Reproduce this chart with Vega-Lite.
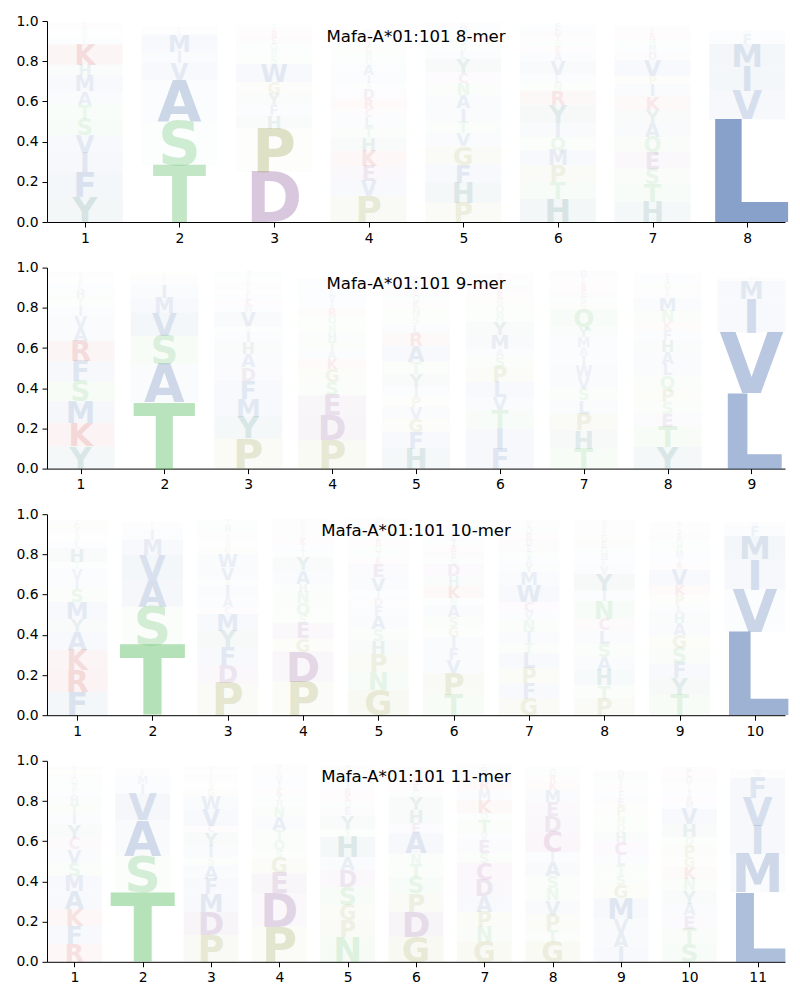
{
"$schema": "https://vega.github.io/schema/vega-lite/v6.json",
"padding": {"left": 15, "top": 14, "right": 10, "bottom": 5},
"bounds": "flush",
"spacing": 45.6,
"config": {
  "font": "DejaVu Sans",
  "view": {"stroke": null},
  "scale": {"continuousPadding": 0},
  "axis": {"grid": false, "domainColor": "black", "domainWidth": 1, "tickColor": "black", "tickWidth": 1, "tickSize": 5, "labelColor": "black", "labelFontSize": 13.9, "labelPadding": 4, "labelFont": "DejaVu Sans", "title": null},
  "title": {"fontSize": 16.6, "fontWeight": "normal", "font": "DejaVu Sans", "color": "black", "anchor": "middle", "baseline": "alphabetic", "offset": -32},
  "text": {"baseline": "alphabetic", "align": "center", "font": "DejaVu Sans", "fontWeight": "bold"}
},
"datasets": {
"m8": [
{"pos":1,"aa":"Y","p":0.124},{"pos":1,"aa":"F","p":0.124},{"pos":1,"aa":"I","p":0.095},{"pos":1,"aa":"V","p":0.088},{"pos":1,"aa":"S","p":0.083},{"pos":1,"aa":"T","p":0.07},{"pos":1,"aa":"A","p":0.066},{"pos":1,"aa":"M","p":0.075},{"pos":1,"aa":"H","p":0.058},{"pos":1,"aa":"K","p":0.1},{"pos":1,"aa":"L","p":0.03},{"pos":1,"aa":"N","p":0.02},{"pos":1,"aa":"Q","p":0.02},{"pos":1,"aa":"W","p":0.02},{"pos":1,"aa":"R","p":0.02},
{"pos":2,"aa":"T","p":0.284},{"pos":2,"aa":"S","p":0.216},{"pos":2,"aa":"A","p":0.207},{"pos":2,"aa":"V","p":0.083},{"pos":2,"aa":"I","p":0.058},{"pos":2,"aa":"M","p":0.083},{"pos":2,"aa":"L","p":0.02},{"pos":2,"aa":"F","p":0.02},
{"pos":3,"aa":"D","p":0.249},{"pos":3,"aa":"P","p":0.216},{"pos":3,"aa":"H","p":0.066},{"pos":3,"aa":"F","p":0.05},{"pos":3,"aa":"Y","p":0.058},{"pos":3,"aa":"G","p":0.058},{"pos":3,"aa":"W","p":0.09},{"pos":3,"aa":"S","p":0.04},{"pos":3,"aa":"N","p":0.03},{"pos":3,"aa":"Q","p":0.03},{"pos":3,"aa":"E","p":0.03},{"pos":3,"aa":"R","p":0.03},{"pos":3,"aa":"K","p":0.02},{"pos":3,"aa":"T","p":0.02},
{"pos":4,"aa":"P","p":0.13},{"pos":4,"aa":"V","p":0.075},{"pos":4,"aa":"E","p":0.075},{"pos":4,"aa":"K","p":0.075},{"pos":4,"aa":"H","p":0.066},{"pos":4,"aa":"T","p":0.05},{"pos":4,"aa":"L","p":0.05},{"pos":4,"aa":"C","p":0.04},{"pos":4,"aa":"R","p":0.05},{"pos":4,"aa":"D","p":0.05},{"pos":4,"aa":"S","p":0.03},{"pos":4,"aa":"I","p":0.04},{"pos":4,"aa":"A","p":0.05},{"pos":4,"aa":"Q","p":0.03},{"pos":4,"aa":"N","p":0.03},{"pos":4,"aa":"G","p":0.03},{"pos":4,"aa":"Y","p":0.03},{"pos":4,"aa":"F","p":0.02},{"pos":4,"aa":"M","p":0.02},{"pos":4,"aa":"W","p":0.02},
{"pos":5,"aa":"P","p":0.096},{"pos":5,"aa":"H","p":0.1},{"pos":5,"aa":"F","p":0.09},{"pos":5,"aa":"G","p":0.09},{"pos":5,"aa":"V","p":0.066},{"pos":5,"aa":"T","p":0.058},{"pos":5,"aa":"I","p":0.066},{"pos":5,"aa":"A","p":0.066},{"pos":5,"aa":"N","p":0.06},{"pos":5,"aa":"C","p":0.05},{"pos":5,"aa":"Y","p":0.07},{"pos":5,"aa":"L","p":0.04},{"pos":5,"aa":"Q","p":0.03},{"pos":5,"aa":"S","p":0.03},{"pos":5,"aa":"K","p":0.03},{"pos":5,"aa":"M","p":0.03},{"pos":5,"aa":"D","p":0.02},
{"pos":6,"aa":"H","p":0.116},{"pos":6,"aa":"T","p":0.083},{"pos":6,"aa":"P","p":0.083},{"pos":6,"aa":"M","p":0.075},{"pos":6,"aa":"Q","p":0.066},{"pos":6,"aa":"I","p":0.07},{"pos":6,"aa":"Y","p":0.09},{"pos":6,"aa":"R","p":0.07},{"pos":6,"aa":"N","p":0.04},{"pos":6,"aa":"L","p":0.04},{"pos":6,"aa":"V","p":0.07},{"pos":6,"aa":"A","p":0.04},{"pos":6,"aa":"K","p":0.03},{"pos":6,"aa":"S","p":0.03},{"pos":6,"aa":"E","p":0.02},{"pos":6,"aa":"D","p":0.03},{"pos":6,"aa":"F","p":0.03},
{"pos":7,"aa":"H","p":0.1},{"pos":7,"aa":"T","p":0.09},{"pos":7,"aa":"S","p":0.075},{"pos":7,"aa":"E","p":0.083},{"pos":7,"aa":"Q","p":0.075},{"pos":7,"aa":"A","p":0.07},{"pos":7,"aa":"Y","p":0.066},{"pos":7,"aa":"K","p":0.066},{"pos":7,"aa":"I","p":0.06},{"pos":7,"aa":"P","p":0.04},{"pos":7,"aa":"V","p":0.08},{"pos":7,"aa":"D","p":0.04},{"pos":7,"aa":"M","p":0.03},{"pos":7,"aa":"N","p":0.03},{"pos":7,"aa":"R","p":0.03},{"pos":7,"aa":"F","p":0.02},{"pos":7,"aa":"L","p":0.02},
{"pos":8,"aa":"L","p":0.51},{"pos":8,"aa":"V","p":0.14},{"pos":8,"aa":"I","p":0.12},{"pos":8,"aa":"M","p":0.116},{"pos":8,"aa":"F","p":0.05},{"pos":8,"aa":"W","p":0.02}
],
"m9": [
{"pos":1,"aa":"Y","p":0.11},{"pos":1,"aa":"K","p":0.116},{"pos":1,"aa":"M","p":0.108},{"pos":1,"aa":"S","p":0.1},{"pos":1,"aa":"F","p":0.1},{"pos":1,"aa":"R","p":0.1},{"pos":1,"aa":"A","p":0.066},{"pos":1,"aa":"V","p":0.06},{"pos":1,"aa":"I","p":0.05},{"pos":1,"aa":"T","p":0.04},{"pos":1,"aa":"H","p":0.04},{"pos":1,"aa":"L","p":0.03},{"pos":1,"aa":"N","p":0.02},{"pos":1,"aa":"Q","p":0.02},{"pos":1,"aa":"E","p":0.02},
{"pos":2,"aa":"T","p":0.33},{"pos":2,"aa":"A","p":0.19},{"pos":2,"aa":"S","p":0.14},{"pos":2,"aa":"V","p":0.116},{"pos":2,"aa":"M","p":0.075},{"pos":2,"aa":"I","p":0.066},{"pos":2,"aa":"L","p":0.02},{"pos":2,"aa":"F","p":0.02},{"pos":2,"aa":"G","p":0.02},
{"pos":3,"aa":"P","p":0.15},{"pos":3,"aa":"Y","p":0.108},{"pos":3,"aa":"M","p":0.09},{"pos":3,"aa":"F","p":0.09},{"pos":3,"aa":"D","p":0.066},{"pos":3,"aa":"A","p":0.066},{"pos":3,"aa":"H","p":0.058},{"pos":3,"aa":"I","p":0.05},{"pos":3,"aa":"S","p":0.03},{"pos":3,"aa":"V","p":0.07},{"pos":3,"aa":"W","p":0.03},{"pos":3,"aa":"K","p":0.03},{"pos":3,"aa":"L","p":0.03},{"pos":3,"aa":"N","p":0.02},{"pos":3,"aa":"E","p":0.02},{"pos":3,"aa":"R","p":0.02},{"pos":3,"aa":"Q","p":0.02},{"pos":3,"aa":"T","p":0.03},
{"pos":4,"aa":"P","p":0.14},{"pos":4,"aa":"D","p":0.125},{"pos":4,"aa":"E","p":0.1},{"pos":4,"aa":"S","p":0.066},{"pos":4,"aa":"G","p":0.066},{"pos":4,"aa":"K","p":0.05},{"pos":4,"aa":"A","p":0.04},{"pos":4,"aa":"T","p":0.05},{"pos":4,"aa":"H","p":0.04},{"pos":4,"aa":"N","p":0.04},{"pos":4,"aa":"Q","p":0.04},{"pos":4,"aa":"R","p":0.04},{"pos":4,"aa":"I","p":0.03},{"pos":4,"aa":"V","p":0.03},{"pos":4,"aa":"L","p":0.03},{"pos":4,"aa":"Y","p":0.03},{"pos":4,"aa":"F","p":0.03},
{"pos":5,"aa":"H","p":0.1},{"pos":5,"aa":"F","p":0.083},{"pos":5,"aa":"G","p":0.066},{"pos":5,"aa":"V","p":0.058},{"pos":5,"aa":"P","p":0.05},{"pos":5,"aa":"I","p":0.05},{"pos":5,"aa":"Y","p":0.066},{"pos":5,"aa":"T","p":0.058},{"pos":5,"aa":"A","p":0.08},{"pos":5,"aa":"R","p":0.066},{"pos":5,"aa":"L","p":0.04},{"pos":5,"aa":"S","p":0.04},{"pos":5,"aa":"N","p":0.04},{"pos":5,"aa":"K","p":0.03},{"pos":5,"aa":"Q","p":0.03},{"pos":5,"aa":"E","p":0.03},{"pos":5,"aa":"M","p":0.03},{"pos":5,"aa":"D","p":0.02},{"pos":5,"aa":"W","p":0.02},
{"pos":6,"aa":"F","p":0.1},{"pos":6,"aa":"I","p":0.1},{"pos":6,"aa":"T","p":0.09},{"pos":6,"aa":"V","p":0.066},{"pos":6,"aa":"L","p":0.075},{"pos":6,"aa":"P","p":0.075},{"pos":6,"aa":"S","p":0.05},{"pos":6,"aa":"A","p":0.04},{"pos":6,"aa":"M","p":0.07},{"pos":6,"aa":"Y","p":0.066},{"pos":6,"aa":"N","p":0.04},{"pos":6,"aa":"Q","p":0.04},{"pos":6,"aa":"G","p":0.03},{"pos":6,"aa":"K","p":0.03},{"pos":6,"aa":"E","p":0.03},{"pos":6,"aa":"H","p":0.03},{"pos":6,"aa":"D","p":0.02},{"pos":6,"aa":"R","p":0.02},
{"pos":7,"aa":"T","p":0.1},{"pos":7,"aa":"H","p":0.09},{"pos":7,"aa":"P","p":0.083},{"pos":7,"aa":"L","p":0.066},{"pos":7,"aa":"S","p":0.058},{"pos":7,"aa":"V","p":0.058},{"pos":7,"aa":"W","p":0.058},{"pos":7,"aa":"I","p":0.05},{"pos":7,"aa":"A","p":0.04},{"pos":7,"aa":"M","p":0.05},{"pos":7,"aa":"Y","p":0.05},{"pos":7,"aa":"Q","p":0.09},{"pos":7,"aa":"G","p":0.03},{"pos":7,"aa":"N","p":0.03},{"pos":7,"aa":"E","p":0.03},{"pos":7,"aa":"R","p":0.03},{"pos":7,"aa":"K","p":0.02},{"pos":7,"aa":"F","p":0.02},{"pos":7,"aa":"D","p":0.03},
{"pos":8,"aa":"Y","p":0.108},{"pos":8,"aa":"T","p":0.1},{"pos":8,"aa":"E","p":0.066},{"pos":8,"aa":"S","p":0.058},{"pos":8,"aa":"P","p":0.066},{"pos":8,"aa":"Q","p":0.066},{"pos":8,"aa":"L","p":0.058},{"pos":8,"aa":"A","p":0.058},{"pos":8,"aa":"H","p":0.058},{"pos":8,"aa":"F","p":0.05},{"pos":8,"aa":"K","p":0.04},{"pos":8,"aa":"N","p":0.058},{"pos":8,"aa":"M","p":0.066},{"pos":8,"aa":"R","p":0.02},{"pos":8,"aa":"V","p":0.02},{"pos":8,"aa":"G","p":0.03},{"pos":8,"aa":"I","p":0.03},{"pos":8,"aa":"D","p":0.02},
{"pos":9,"aa":"L","p":0.377},{"pos":9,"aa":"V","p":0.3},{"pos":9,"aa":"I","p":0.166},{"pos":9,"aa":"M","p":0.09},{"pos":9,"aa":"F","p":0.02}
],
"m10": [
{"pos":1,"aa":"F","p":0.116},{"pos":1,"aa":"R","p":0.108},{"pos":1,"aa":"K","p":0.1},{"pos":1,"aa":"A","p":0.09},{"pos":1,"aa":"Y","p":0.066},{"pos":1,"aa":"M","p":0.083},{"pos":1,"aa":"S","p":0.066},{"pos":1,"aa":"I","p":0.05},{"pos":1,"aa":"V","p":0.05},{"pos":1,"aa":"T","p":0.035},{"pos":1,"aa":"H","p":0.066},{"pos":1,"aa":"L","p":0.03},{"pos":1,"aa":"N","p":0.02},{"pos":1,"aa":"Q","p":0.02},{"pos":1,"aa":"E","p":0.02},{"pos":1,"aa":"G","p":0.03},{"pos":1,"aa":"C","p":0.02},
{"pos":2,"aa":"T","p":0.35},{"pos":2,"aa":"S","p":0.19},{"pos":2,"aa":"A","p":0.133},{"pos":2,"aa":"V","p":0.125},{"pos":2,"aa":"M","p":0.075},{"pos":2,"aa":"I","p":0.05},{"pos":2,"aa":"L","p":0.02},{"pos":2,"aa":"F","p":0.02},
{"pos":3,"aa":"P","p":0.158},{"pos":3,"aa":"D","p":0.09},{"pos":3,"aa":"F","p":0.09},{"pos":3,"aa":"Y","p":0.083},{"pos":3,"aa":"M","p":0.083},{"pos":3,"aa":"C","p":0.033},{"pos":3,"aa":"A","p":0.05},{"pos":3,"aa":"I","p":0.058},{"pos":3,"aa":"S","p":0.03},{"pos":3,"aa":"V","p":0.06},{"pos":3,"aa":"W","p":0.066},{"pos":3,"aa":"G","p":0.03},{"pos":3,"aa":"N","p":0.02},{"pos":3,"aa":"Q","p":0.02},{"pos":3,"aa":"E","p":0.02},{"pos":3,"aa":"L","p":0.02},{"pos":3,"aa":"H","p":0.03},{"pos":3,"aa":"T","p":0.03},
{"pos":4,"aa":"P","p":0.166},{"pos":4,"aa":"D","p":0.15},{"pos":4,"aa":"G","p":0.066},{"pos":4,"aa":"E","p":0.075},{"pos":4,"aa":"S","p":0.04},{"pos":4,"aa":"Q","p":0.06},{"pos":4,"aa":"N","p":0.058},{"pos":4,"aa":"H","p":0.04},{"pos":4,"aa":"A","p":0.066},{"pos":4,"aa":"Y","p":0.066},{"pos":4,"aa":"T","p":0.03},{"pos":4,"aa":"I","p":0.03},{"pos":4,"aa":"K","p":0.03},{"pos":4,"aa":"R","p":0.02},{"pos":4,"aa":"V","p":0.02},{"pos":4,"aa":"L","p":0.02},{"pos":4,"aa":"M","p":0.02},{"pos":4,"aa":"F","p":0.02},
{"pos":5,"aa":"G","p":0.125},{"pos":5,"aa":"N","p":0.09},{"pos":5,"aa":"P","p":0.09},{"pos":5,"aa":"H","p":0.066},{"pos":5,"aa":"S","p":0.058},{"pos":5,"aa":"A","p":0.066},{"pos":5,"aa":"F","p":0.05},{"pos":5,"aa":"D","p":0.04},{"pos":5,"aa":"I","p":0.035},{"pos":5,"aa":"V","p":0.066},{"pos":5,"aa":"E","p":0.066},{"pos":5,"aa":"K","p":0.03},{"pos":5,"aa":"T","p":0.03},{"pos":5,"aa":"Q","p":0.03},{"pos":5,"aa":"R","p":0.03},{"pos":5,"aa":"Y","p":0.03},{"pos":5,"aa":"L","p":0.02},{"pos":5,"aa":"M","p":0.02},{"pos":5,"aa":"W","p":0.02},{"pos":5,"aa":"C","p":0.02},
{"pos":6,"aa":"T","p":0.1},{"pos":6,"aa":"P","p":0.108},{"pos":6,"aa":"V","p":0.066},{"pos":6,"aa":"F","p":0.058},{"pos":6,"aa":"I","p":0.058},{"pos":6,"aa":"G","p":0.05},{"pos":6,"aa":"S","p":0.05},{"pos":6,"aa":"A","p":0.058},{"pos":6,"aa":"N","p":0.035},{"pos":6,"aa":"K","p":0.06},{"pos":6,"aa":"H","p":0.05},{"pos":6,"aa":"D","p":0.058},{"pos":6,"aa":"Q","p":0.03},{"pos":6,"aa":"E","p":0.03},{"pos":6,"aa":"R","p":0.03},{"pos":6,"aa":"Y","p":0.03},{"pos":6,"aa":"L","p":0.03},{"pos":6,"aa":"M","p":0.02},{"pos":6,"aa":"C","p":0.02},
{"pos":7,"aa":"G","p":0.083},{"pos":7,"aa":"F","p":0.075},{"pos":7,"aa":"P","p":0.075},{"pos":7,"aa":"L","p":0.075},{"pos":7,"aa":"T","p":0.05},{"pos":7,"aa":"I","p":0.058},{"pos":7,"aa":"N","p":0.058},{"pos":7,"aa":"V","p":0.04},{"pos":7,"aa":"C","p":0.05},{"pos":7,"aa":"W","p":0.083},{"pos":7,"aa":"M","p":0.066},{"pos":7,"aa":"Y","p":0.04},{"pos":7,"aa":"A","p":0.03},{"pos":7,"aa":"S","p":0.03},{"pos":7,"aa":"E","p":0.03},{"pos":7,"aa":"D","p":0.03},{"pos":7,"aa":"R","p":0.03},{"pos":7,"aa":"Q","p":0.03},{"pos":7,"aa":"K","p":0.02},{"pos":7,"aa":"H","p":0.02},
{"pos":8,"aa":"P","p":0.083},{"pos":8,"aa":"T","p":0.066},{"pos":8,"aa":"H","p":0.075},{"pos":8,"aa":"A","p":0.066},{"pos":8,"aa":"S","p":0.066},{"pos":8,"aa":"L","p":0.066},{"pos":8,"aa":"C","p":0.058},{"pos":8,"aa":"N","p":0.09},{"pos":8,"aa":"I","p":0.05},{"pos":8,"aa":"Y","p":0.083},{"pos":8,"aa":"V","p":0.04},{"pos":8,"aa":"F","p":0.03},{"pos":8,"aa":"M","p":0.03},{"pos":8,"aa":"Q","p":0.03},{"pos":8,"aa":"E","p":0.03},{"pos":8,"aa":"G","p":0.03},{"pos":8,"aa":"D","p":0.02},{"pos":8,"aa":"K","p":0.02},{"pos":8,"aa":"R","p":0.02},{"pos":8,"aa":"W","p":0.02},
{"pos":9,"aa":"T","p":0.1},{"pos":9,"aa":"Y","p":0.083},{"pos":9,"aa":"F","p":0.075},{"pos":9,"aa":"S","p":0.075},{"pos":9,"aa":"G","p":0.066},{"pos":9,"aa":"A","p":0.058},{"pos":9,"aa":"H","p":0.05},{"pos":9,"aa":"L","p":0.04},{"pos":9,"aa":"P","p":0.05},{"pos":9,"aa":"K","p":0.05},{"pos":9,"aa":"V","p":0.075},{"pos":9,"aa":"R","p":0.03},{"pos":9,"aa":"I","p":0.03},{"pos":9,"aa":"M","p":0.03},{"pos":9,"aa":"N","p":0.03},{"pos":9,"aa":"Q","p":0.03},{"pos":9,"aa":"E","p":0.03},{"pos":9,"aa":"D","p":0.02},{"pos":9,"aa":"C","p":0.02},{"pos":9,"aa":"W","p":0.02},
{"pos":10,"aa":"L","p":0.415},{"pos":10,"aa":"V","p":0.21},{"pos":10,"aa":"I","p":0.15},{"pos":10,"aa":"M","p":0.116},{"pos":10,"aa":"F","p":0.05},{"pos":10,"aa":"W","p":0.02}
],
"m11": [
{"pos":1,"aa":"R","p":0.09},{"pos":1,"aa":"F","p":0.09},{"pos":1,"aa":"K","p":0.083},{"pos":1,"aa":"A","p":0.09},{"pos":1,"aa":"M","p":0.075},{"pos":1,"aa":"S","p":0.066},{"pos":1,"aa":"V","p":0.066},{"pos":1,"aa":"C","p":0.058},{"pos":1,"aa":"Y","p":0.066},{"pos":1,"aa":"I","p":0.05},{"pos":1,"aa":"T","p":0.05},{"pos":1,"aa":"H","p":0.04},{"pos":1,"aa":"L","p":0.03},{"pos":1,"aa":"N","p":0.03},{"pos":1,"aa":"Q","p":0.03},{"pos":1,"aa":"E","p":0.02},{"pos":1,"aa":"G","p":0.02},{"pos":1,"aa":"D","p":0.02},
{"pos":2,"aa":"T","p":0.345},{"pos":2,"aa":"S","p":0.183},{"pos":2,"aa":"A","p":0.175},{"pos":2,"aa":"V","p":0.133},{"pos":2,"aa":"I","p":0.05},{"pos":2,"aa":"M","p":0.04},{"pos":2,"aa":"F","p":0.02},{"pos":2,"aa":"L","p":0.02},
{"pos":3,"aa":"P","p":0.133},{"pos":3,"aa":"D","p":0.116},{"pos":3,"aa":"M","p":0.09},{"pos":3,"aa":"F","p":0.075},{"pos":3,"aa":"A","p":0.066},{"pos":3,"aa":"S","p":0.04},{"pos":3,"aa":"I","p":0.058},{"pos":3,"aa":"Y","p":0.066},{"pos":3,"aa":"C","p":0.033},{"pos":3,"aa":"V","p":0.083},{"pos":3,"aa":"W","p":0.066},{"pos":3,"aa":"G","p":0.03},{"pos":3,"aa":"N","p":0.02},{"pos":3,"aa":"Q","p":0.02},{"pos":3,"aa":"L","p":0.02},{"pos":3,"aa":"E","p":0.02},{"pos":3,"aa":"T","p":0.02},{"pos":3,"aa":"H","p":0.02},
{"pos":4,"aa":"P","p":0.175},{"pos":4,"aa":"D","p":0.166},{"pos":4,"aa":"E","p":0.1},{"pos":4,"aa":"G","p":0.075},{"pos":4,"aa":"S","p":0.04},{"pos":4,"aa":"Q","p":0.05},{"pos":4,"aa":"T","p":0.05},{"pos":4,"aa":"A","p":0.066},{"pos":4,"aa":"N","p":0.05},{"pos":4,"aa":"H","p":0.03},{"pos":4,"aa":"Y","p":0.03},{"pos":4,"aa":"K","p":0.03},{"pos":4,"aa":"I","p":0.03},{"pos":4,"aa":"V","p":0.03},{"pos":4,"aa":"R","p":0.02},{"pos":4,"aa":"L","p":0.02},{"pos":4,"aa":"M","p":0.02},
{"pos":5,"aa":"N","p":0.125},{"pos":5,"aa":"P","p":0.083},{"pos":5,"aa":"G","p":0.075},{"pos":5,"aa":"S","p":0.09},{"pos":5,"aa":"D","p":0.083},{"pos":5,"aa":"A","p":0.066},{"pos":5,"aa":"H","p":0.1},{"pos":5,"aa":"T","p":0.04},{"pos":5,"aa":"Y","p":0.066},{"pos":5,"aa":"E","p":0.04},{"pos":5,"aa":"Q","p":0.03},{"pos":5,"aa":"K","p":0.03},{"pos":5,"aa":"R","p":0.03},{"pos":5,"aa":"I","p":0.03},{"pos":5,"aa":"V","p":0.03},{"pos":5,"aa":"F","p":0.02},{"pos":5,"aa":"L","p":0.02},{"pos":5,"aa":"M","p":0.02},
{"pos":6,"aa":"G","p":0.125},{"pos":6,"aa":"D","p":0.125},{"pos":6,"aa":"P","p":0.09},{"pos":6,"aa":"S","p":0.083},{"pos":6,"aa":"T","p":0.066},{"pos":6,"aa":"N","p":0.05},{"pos":6,"aa":"A","p":0.1},{"pos":6,"aa":"E","p":0.05},{"pos":6,"aa":"H","p":0.066},{"pos":6,"aa":"Y","p":0.066},{"pos":6,"aa":"Q","p":0.03},{"pos":6,"aa":"K","p":0.03},{"pos":6,"aa":"R","p":0.03},{"pos":6,"aa":"V","p":0.02},{"pos":6,"aa":"I","p":0.02},{"pos":6,"aa":"L","p":0.02},
{"pos":7,"aa":"G","p":0.1},{"pos":7,"aa":"N","p":0.075},{"pos":7,"aa":"P","p":0.075},{"pos":7,"aa":"A","p":0.075},{"pos":7,"aa":"D","p":0.083},{"pos":7,"aa":"C","p":0.083},{"pos":7,"aa":"S","p":0.05},{"pos":7,"aa":"E","p":0.066},{"pos":7,"aa":"V","p":0.033},{"pos":7,"aa":"T","p":0.066},{"pos":7,"aa":"Q","p":0.033},{"pos":7,"aa":"K","p":0.066},{"pos":7,"aa":"M","p":0.05},{"pos":7,"aa":"R","p":0.05},{"pos":7,"aa":"Y","p":0.03},{"pos":7,"aa":"H","p":0.03},{"pos":7,"aa":"L","p":0.02},
{"pos":8,"aa":"G","p":0.1},{"pos":8,"aa":"T","p":0.06},{"pos":8,"aa":"P","p":0.075},{"pos":8,"aa":"V","p":0.07},{"pos":8,"aa":"N","p":0.06},{"pos":8,"aa":"S","p":0.06},{"pos":8,"aa":"A","p":0.07},{"pos":8,"aa":"I","p":0.05},{"pos":8,"aa":"C","p":0.1},{"pos":8,"aa":"D","p":0.08},{"pos":8,"aa":"E","p":0.07},{"pos":8,"aa":"M","p":0.06},{"pos":8,"aa":"K","p":0.04},{"pos":8,"aa":"R","p":0.03},{"pos":8,"aa":"Q","p":0.03},{"pos":8,"aa":"L","p":0.02},
{"pos":9,"aa":"I","p":0.075},{"pos":9,"aa":"A","p":0.07},{"pos":9,"aa":"V","p":0.07},{"pos":9,"aa":"M","p":0.1},{"pos":9,"aa":"G","p":0.066},{"pos":9,"aa":"S","p":0.05},{"pos":9,"aa":"T","p":0.05},{"pos":9,"aa":"L","p":0.05},{"pos":9,"aa":"C","p":0.066},{"pos":9,"aa":"H","p":0.05},{"pos":9,"aa":"Q","p":0.04},{"pos":9,"aa":"N","p":0.04},{"pos":9,"aa":"P","p":0.05},{"pos":9,"aa":"E","p":0.04},{"pos":9,"aa":"F","p":0.03},{"pos":9,"aa":"K","p":0.02},{"pos":9,"aa":"R","p":0.02},{"pos":9,"aa":"Y","p":0.03},{"pos":9,"aa":"D","p":0.03},
{"pos":10,"aa":"S","p":0.09},{"pos":10,"aa":"T","p":0.075},{"pos":10,"aa":"E","p":0.066},{"pos":10,"aa":"A","p":0.058},{"pos":10,"aa":"Y","p":0.066},{"pos":10,"aa":"N","p":0.058},{"pos":10,"aa":"K","p":0.058},{"pos":10,"aa":"G","p":0.05},{"pos":10,"aa":"P","p":0.058},{"pos":10,"aa":"Q","p":0.04},{"pos":10,"aa":"H","p":0.066},{"pos":10,"aa":"V","p":0.075},{"pos":10,"aa":"M","p":0.03},{"pos":10,"aa":"R","p":0.03},{"pos":10,"aa":"I","p":0.03},{"pos":10,"aa":"L","p":0.02},{"pos":10,"aa":"F","p":0.02},{"pos":10,"aa":"D","p":0.03},{"pos":10,"aa":"C","p":0.03},{"pos":10,"aa":"W","p":0.02},
{"pos":11,"aa":"L","p":0.345},{"pos":11,"aa":"M","p":0.19},{"pos":11,"aa":"I","p":0.14},{"pos":11,"aa":"V","p":0.14},{"pos":11,"aa":"F","p":0.1},{"pos":11,"aa":"Y","p":0.02},{"pos":11,"aa":"W","p":0.025}
]
},
"vconcat": [
{
 "data": {"name": "m8"}, "width": 738, "height": 201,
 "title": {"text": "Mafa-A*01:101 8-mer"},
 "transform": [{"stack": "p", "groupby": ["pos"], "as": ["y0", "y1"]}],
 "encoding": {
  "x": {"field": "pos", "type": "quantitative", "scale": {"domain": [0.6, 8.4], "nice": false, "padding": 0}, "axis": {"values": [1,2,3,4,5,6,7,8], "format": "d"}},
  "y": {"field": "y0", "type": "quantitative", "scale": {"domain": [0, 1], "nice": false}, "axis": {"values": [0,0.2,0.4,0.6,0.8,1], "format": ".1f"}},
  "color": {"field": "aa", "type": "nominal", "legend": null, "scale": {"domain": ["A","V","L","I","M","F","W","S","T","N","Q","P","G","D","E","K","R","H","Y","C"], "range": ["#4c72b0","#4c72b0","#4c72b0","#4c72b0","#4c72b0","#4c72b0","#4c72b0","#5ebf66","#5ebf66","#5ebf66","#5ebf66","#969e42","#969e42","#8c5798","#8c5798","#c83c3c","#c83c3c","#3f7f7f","#3f7f7f","#a8509a"]}}
 },
 "layer": [
  {"mark": {"type": "bar", "width": 76},
   "encoding": {"y2": {"field": "y1"}, "opacity": {"field": "p", "type": "quantitative", "legend": null, "scale": {"domain": [0, 0.12, 0.25], "range": [0, 0.06, 0], "clamp": true}}}},
  {"mark": {"type": "text"},
   "encoding": {"text": {"field": "aa"},
    "size": {"field": "p", "type": "quantitative", "scale": {"domain": [0, 1], "range": [0, 276]}, "legend": null},
    "opacity": {"field": "p", "type": "quantitative", "legend": null, "scale": {"domain": [0, 0.77], "range": [0, 1], "clamp": true}}}}
 ],
 "resolve": {"scale": {"opacity": "independent"}}
},
{
 "data": {"name": "m9"}, "width": 738, "height": 201,
 "title": {"text": "Mafa-A*01:101 9-mer"},
 "transform": [{"stack": "p", "groupby": ["pos"], "as": ["y0", "y1"]}],
 "encoding": {
  "x": {"field": "pos", "type": "quantitative", "scale": {"domain": [0.6, 9.4], "nice": false, "padding": 0}, "axis": {"values": [1,2,3,4,5,6,7,8,9], "format": "d"}},
  "y": {"field": "y0", "type": "quantitative", "scale": {"domain": [0, 1], "nice": false}, "axis": {"values": [0,0.2,0.4,0.6,0.8,1], "format": ".1f"}},
  "color": {"field": "aa", "type": "nominal", "legend": null, "scale": {"domain": ["A","V","L","I","M","F","W","S","T","N","Q","P","G","D","E","K","R","H","Y","C"], "range": ["#4c72b0","#4c72b0","#4c72b0","#4c72b0","#4c72b0","#4c72b0","#4c72b0","#5ebf66","#5ebf66","#5ebf66","#5ebf66","#969e42","#969e42","#8c5798","#8c5798","#c83c3c","#c83c3c","#3f7f7f","#3f7f7f","#a8509a"]}}
 },
 "layer": [
  {"mark": {"type": "bar", "width": 68},
   "encoding": {"y2": {"field": "y1"}, "opacity": {"field": "p", "type": "quantitative", "legend": null, "scale": {"domain": [0, 0.12, 0.25], "range": [0, 0.06, 0], "clamp": true}}}},
  {"mark": {"type": "text"},
   "encoding": {"text": {"field": "aa"},
    "size": {"field": "p", "type": "quantitative", "scale": {"domain": [0, 1], "range": [0, 276]}, "legend": null},
    "opacity": {"field": "p", "type": "quantitative", "legend": null, "scale": {"domain": [0, 0.77], "range": [0, 1], "clamp": true}}}}
 ],
 "resolve": {"scale": {"opacity": "independent"}}
},
{
 "data": {"name": "m10"}, "width": 738, "height": 201,
 "title": {"text": "Mafa-A*01:101 10-mer"},
 "transform": [{"stack": "p", "groupby": ["pos"], "as": ["y0", "y1"]}],
 "encoding": {
  "x": {"field": "pos", "type": "quantitative", "scale": {"domain": [0.6, 10.4], "nice": false, "padding": 0}, "axis": {"values": [1,2,3,4,5,6,7,8,9,10], "format": "d"}},
  "y": {"field": "y0", "type": "quantitative", "scale": {"domain": [0, 1], "nice": false}, "axis": {"values": [0,0.2,0.4,0.6,0.8,1], "format": ".1f"}},
  "color": {"field": "aa", "type": "nominal", "legend": null, "scale": {"domain": ["A","V","L","I","M","F","W","S","T","N","Q","P","G","D","E","K","R","H","Y","C"], "range": ["#4c72b0","#4c72b0","#4c72b0","#4c72b0","#4c72b0","#4c72b0","#4c72b0","#5ebf66","#5ebf66","#5ebf66","#5ebf66","#969e42","#969e42","#8c5798","#8c5798","#c83c3c","#c83c3c","#3f7f7f","#3f7f7f","#a8509a"]}}
 },
 "layer": [
  {"mark": {"type": "bar", "width": 61},
   "encoding": {"y2": {"field": "y1"}, "opacity": {"field": "p", "type": "quantitative", "legend": null, "scale": {"domain": [0, 0.12, 0.25], "range": [0, 0.06, 0], "clamp": true}}}},
  {"mark": {"type": "text"},
   "encoding": {"text": {"field": "aa"},
    "size": {"field": "p", "type": "quantitative", "scale": {"domain": [0, 1], "range": [0, 276]}, "legend": null},
    "opacity": {"field": "p", "type": "quantitative", "legend": null, "scale": {"domain": [0, 0.77], "range": [0, 1], "clamp": true}}}}
 ],
 "resolve": {"scale": {"opacity": "independent"}}
},
{
 "data": {"name": "m11"}, "width": 738, "height": 201,
 "title": {"text": "Mafa-A*01:101 11-mer"},
 "transform": [{"stack": "p", "groupby": ["pos"], "as": ["y0", "y1"]}],
 "encoding": {
  "x": {"field": "pos", "type": "quantitative", "scale": {"domain": [0.6, 11.4], "nice": false, "padding": 0}, "axis": {"values": [1,2,3,4,5,6,7,8,9,10,11], "format": "d"}},
  "y": {"field": "y0", "type": "quantitative", "scale": {"domain": [0, 1], "nice": false}, "axis": {"values": [0,0.2,0.4,0.6,0.8,1], "format": ".1f"}},
  "color": {"field": "aa", "type": "nominal", "legend": null, "scale": {"domain": ["A","V","L","I","M","F","W","S","T","N","Q","P","G","D","E","K","R","H","Y","C"], "range": ["#4c72b0","#4c72b0","#4c72b0","#4c72b0","#4c72b0","#4c72b0","#4c72b0","#5ebf66","#5ebf66","#5ebf66","#5ebf66","#969e42","#969e42","#8c5798","#8c5798","#c83c3c","#c83c3c","#3f7f7f","#3f7f7f","#a8509a"]}}
 },
 "layer": [
  {"mark": {"type": "bar", "width": 55},
   "encoding": {"y2": {"field": "y1"}, "opacity": {"field": "p", "type": "quantitative", "legend": null, "scale": {"domain": [0, 0.12, 0.25], "range": [0, 0.06, 0], "clamp": true}}}},
  {"mark": {"type": "text"},
   "encoding": {"text": {"field": "aa"},
    "size": {"field": "p", "type": "quantitative", "scale": {"domain": [0, 1], "range": [0, 276]}, "legend": null},
    "opacity": {"field": "p", "type": "quantitative", "legend": null, "scale": {"domain": [0, 0.77], "range": [0, 1], "clamp": true}}}}
 ],
 "resolve": {"scale": {"opacity": "independent"}}
}
]
}
